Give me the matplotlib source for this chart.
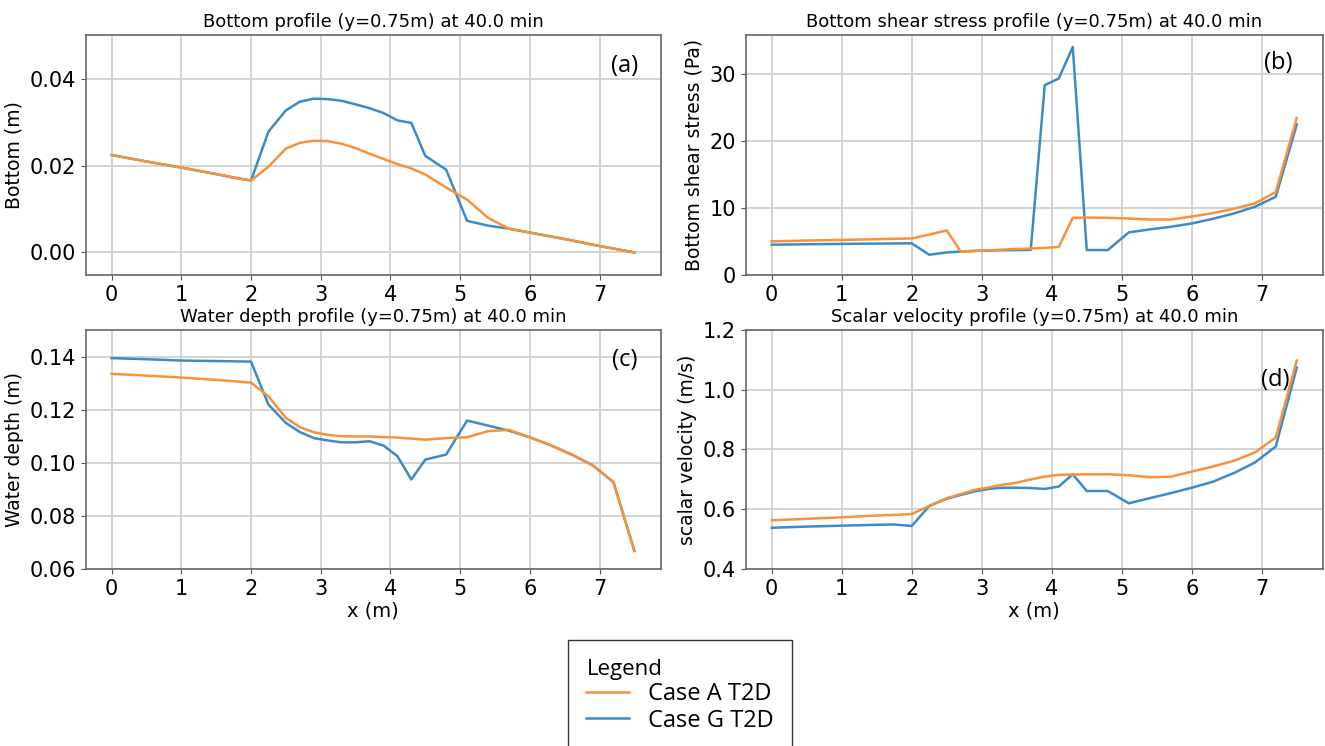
import matplotlib
matplotlib.use("Agg")
import matplotlib.pyplot as plt

# x positions along the profile (m)
x = [0, 0.5, 1.0, 1.5, 1.75, 2.0, 2.25, 2.5, 2.7, 2.9, 3.1, 3.3, 3.5, 3.7, 3.9,
     4.1, 4.3, 4.5, 4.8, 5.1, 5.4, 5.7, 6.0, 6.3, 6.6, 6.9, 7.2, 7.5]

# (a) bottom (m)
bottom_A = [0.0225, 0.0210, 0.0196, 0.0181, 0.0173, 0.0166, 0.0198, 0.0240, 0.0253, 0.0258,
            0.0257, 0.0251, 0.0241, 0.0228, 0.0216, 0.0204, 0.0194, 0.0180, 0.0150, 0.0122,
            0.0080, 0.0055, 0.0046, 0.0037, 0.0028, 0.0018, 0.0009, 0.0000]
bottom_G = [0.0225, 0.0210, 0.0196, 0.0181, 0.0173, 0.0166, 0.0279, 0.0328, 0.0348, 0.0355,
            0.0354, 0.0350, 0.0342, 0.0333, 0.0322, 0.0305, 0.0299, 0.0223, 0.0191, 0.0073,
            0.0062, 0.0055, 0.0046, 0.0037, 0.0028, 0.0018, 0.0009, 0.0000]

# (b) bottom shear stress (Pa)
shear_A = [5.03, 5.15, 5.25, 5.35, 5.42, 5.47, 6.05, 6.67, 3.48, 3.6, 3.7, 3.8, 3.9, 3.95,
           4.05, 4.2, 8.55, 8.6, 8.55, 8.45, 8.3, 8.3, 8.75, 9.25, 9.9, 10.7, 12.4, 23.5]
shear_G = [4.53, 4.6, 4.65, 4.7, 4.72, 4.73, 3.03, 3.38, 3.5, 3.6, 3.65, 3.7, 3.72, 3.75,
           28.4, 29.4, 34.1, 3.73, 3.73, 6.37, 6.82, 7.21, 7.71, 8.4, 9.2, 10.2, 11.7, 22.5]

# (c) water depth (m)
depth_A = [0.1335, 0.1328, 0.1321, 0.1312, 0.1307, 0.1302, 0.1250, 0.1169, 0.1134, 0.1115,
           0.1105, 0.1100, 0.1099, 0.1099, 0.1097, 0.1095, 0.1091, 0.1087, 0.1093, 0.1096,
           0.1119, 0.1124, 0.1096, 0.1066, 0.1031, 0.0991, 0.0927, 0.0668]
depth_G = [0.1394, 0.1390, 0.1385, 0.1383, 0.1382, 0.1381, 0.1219, 0.1150, 0.1116, 0.1093,
           0.1084, 0.1077, 0.1077, 0.1081, 0.1065, 0.1025, 0.0937, 0.1012, 0.1031, 0.1159,
           0.1140, 0.1121, 0.1096, 0.1066, 0.1031, 0.0991, 0.0927, 0.0668]

# (d) scalar velocity (m/s)
vel_A = [0.563, 0.568, 0.573, 0.579, 0.581, 0.584, 0.611, 0.637, 0.651, 0.665, 0.673, 0.682,
         0.689, 0.700, 0.709, 0.715, 0.716, 0.717, 0.717, 0.714, 0.707, 0.709, 0.726, 0.743,
         0.762, 0.790, 0.840, 1.098]
vel_G = [0.538, 0.542, 0.545, 0.548, 0.549, 0.544, 0.611, 0.635, 0.648, 0.660, 0.668, 0.672,
         0.672, 0.671, 0.668, 0.676, 0.717, 0.661, 0.661, 0.620, 0.637, 0.654, 0.672, 0.692,
         0.721, 0.756, 0.810, 1.074]

orange = "#f7923a"
blue = "#3d8bc6"

W, H = 1325, 746
fig = plt.figure(figsize=(W / 100, H / 100), dpi=100)


def make_ax(left, top, right, bottom):
    return fig.add_axes([left / W, 1 - bottom / H, (right - left) / W, (bottom - top) / H])


panels = [
    (make_ax(85.5, 35, 660.5, 275), bottom_A, bottom_G, "Bottom (m)",
     "Bottom profile (y=0.75m) at 40.0 min", "(a)", (-0.0052, 0.0502), (0.938, 0.87), False),
    (make_ax(745.5, 35, 1323, 275), shear_A, shear_G, "Bottom shear stress (Pa)",
     "Bottom shear stress profile (y=0.75m) at 40.0 min", "(b)", (0, 35.9), (0.922, 0.883), False),
    (make_ax(85.5, 330, 660.5, 569), depth_A, depth_G, "Water depth (m)",
     "Water depth profile (y=0.75m) at 40.0 min", "(c)", (0.06, 0.15), (0.938, 0.874), True),
    (make_ax(745.5, 330, 1323, 569), vel_A, vel_G, "scalar velocity (m/s)",
     "Scalar velocity profile (y=0.75m) at 40.0 min", "(d)", (0.4, 1.2), (0.917, 0.79), True),
]

for ax, ya, yg, ylab, title, tag, ylim, tagpos, showx in panels:
    lg, = ax.plot(x, yg, color=blue, lw=1.8, label="Case G T2D")
    la, = ax.plot(x, ya, color=orange, lw=1.8, label="Case A T2D")
    ax.set_xlim(-0.375, 7.875)
    ax.set_ylim(*ylim)
    ax.set_xticks(range(8))
    ax.grid(True, color="#d0d0d0", lw=1.3)
    ax.set_axisbelow(True)
    ax.tick_params(labelsize=15, color="#555555")
    for s in ax.spines.values():
        s.set_color("#666666")
        s.set_linewidth(1.2)
    ax.set_ylabel(ylab, fontsize=13.5)
    ax.set_title(title, fontsize=13)
    ax.text(tagpos[0], tagpos[1], tag, transform=ax.transAxes, fontsize=17,
            ha="center", va="center", family="Open Sans")
    if showx:
        ax.set_xlabel("x (m)", fontsize=14, labelpad=2)

panels[1][0].set_yticks([0, 10, 20, 30])
panels[2][0].set_yticks([0.06, 0.08, 0.10, 0.12, 0.14])
panels[0][0].set_yticks([0.0, 0.02, 0.04])

leg = fig.legend([la, lg], ["Case A T2D", "Case G T2D"], title="Legend",
                 loc="upper center", bbox_to_anchor=(680 / W, 1 - 640 / H),
                 borderaxespad=0, handlelength=1.8, handletextpad=0.8,
                 prop={"family": "Open Sans", "size": 17},
                 title_fontproperties={"family": "Open Sans", "size": 16},
                 fancybox=False, edgecolor="#333333", framealpha=1,
                 alignment="left", borderpad=0.8, labelspacing=0.1)
leg.get_frame().set_linewidth(1.0)

fig.savefig("out.png", dpi=100)
